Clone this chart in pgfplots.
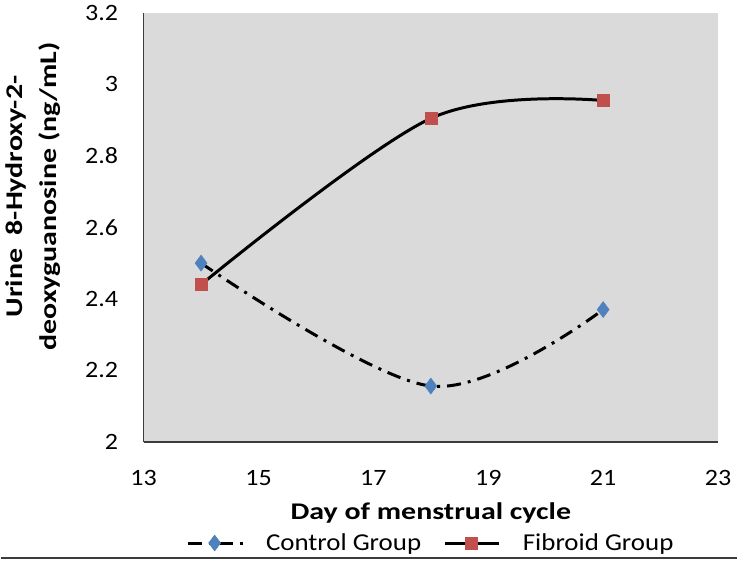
\documentclass[border=0pt]{standalone}
\usepackage{pgfplots}
\pgfplotsset{compat=1.18}
\usepackage{fontspec}
\setmainfont{Carlito}[FakeStretch=1.11]
\newfontfamily\labelfont{Carlito}[FakeStretch=1.25]
\definecolor{plotbg}{RGB}{218,218,218}
\definecolor{ctrlblue}{RGB}{79,129,189}
\definecolor{fibred}{RGB}{192,80,77}
\definecolor{axgray}{RGB}{60,60,60}
\newcommand{\yt}[1]{#1\hspace*{22pt}}
\newcommand{\xt}[1]{\rule{0pt}{40pt}#1}
\begin{document}
\begin{tikzpicture}
\begin{axis}[
  name=main,
  scale only axis,
  width=576pt, height=430pt,
  xmin=13, xmax=23, ymin=2, ymax=3.2,
  xtick={13,15,17,19,21,23},
  xticklabels={\xt{13},\xt{15},\xt{17},\xt{19},\xt{21},\xt{23}},
  ytick={2,2.2,2.4,2.6,2.8,3,3.2},
  yticklabels={\yt{2},\yt{2.2},\yt{2.4},\yt{2.6},\yt{2.8},\yt{3},\yt{3.2}},
  axis lines*=left,
  axis line style={axgray, line width=1.5pt, -},
  major tick length=0pt,
  axis background/.style={fill=plotbg},
  tick label style={font=\fontsize{23.5}{28}\selectfont},
  xlabel={Day of menstrual cycle},
  xlabel style={font=\labelfont\bfseries\fontsize{24}{29}\selectfont, at={(axis description cs:0.5,-0.165)}, anchor=center},
  ylabel={Urine\ \ 8-Hydroxy-2-\\deoxyguanosine (ng/mL)},
  ylabel style={font=\labelfont\bfseries\fontsize{24}{34}\selectfont, align=center, at={(axis description cs:-0.193,0.572)}, anchor=center},
  legend columns=2,
  legend style={at={(axis description cs:0.5,-0.236)}, anchor=center, draw=none, fill=none,
    font=\fontsize{24.3}{29}\selectfont, column sep=20pt},
  legend image code/.code={
    \draw[#1, mark=none] (0pt,0pt) -- (55pt,0pt);
    \draw[#1, only marks] plot coordinates {(27pt,0pt)};
  },
]
\addplot[black, line width=3pt, dash pattern=on 14pt off 7pt on 3pt off 7pt, smooth, tension=0.55,
  mark=diamond*, mark size=8pt, mark options={solid, fill=ctrlblue, draw=ctrlblue, line width=0.5pt}]
  coordinates {(14,2.50) (18,2.156) (21,2.37)};
\addlegendentry{Control Group}
\addplot[black, line width=3pt, smooth, tension=0.55,
  mark=square*, mark size=6pt, mark options={solid, fill=fibred, draw=fibred, line width=0.5pt}]
  coordinates {(14,2.44) (18,2.905) (21,2.955)};
\addlegendentry{Fibroid Group}
\end{axis}
\pgfresetboundingbox
\path ([shift={(-143pt,-119pt)}]main.south west) rectangle ([shift={(19pt,13pt)}]main.north east);
\draw[axgray, line width=2pt] ([shift={(-143pt,-117pt)}]main.south west) -- ([shift={(19pt,-117pt)}]main.south east);
\end{tikzpicture}
\end{document}
